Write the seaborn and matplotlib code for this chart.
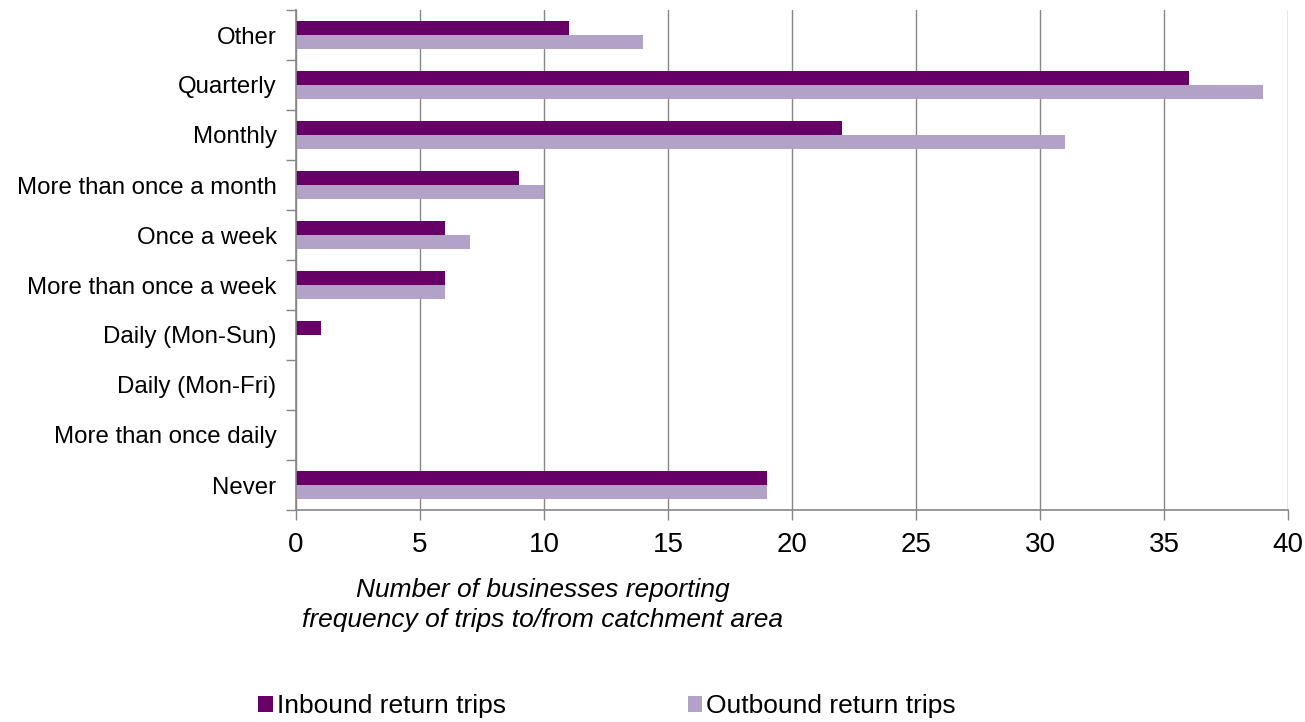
import matplotlib
matplotlib.use("Agg")
import matplotlib.pyplot as plt
from matplotlib.patches import Patch
import seaborn as sns
import pandas as pd

categories = [
    "Other",
    "Quarterly",
    "Monthly",
    "More than once a month",
    "Once a week",
    "More than once a week",
    "Daily (Mon-Sun)",
    "Daily (Mon-Fri)",
    "More than once daily",
    "Never",
]
inbound = [11, 36, 22, 9, 6, 6, 1, 0, 0, 19]
outbound = [14, 39, 31, 10, 7, 6, 0, 0, 0, 19]
series_names = ["Inbound return trips", "Outbound return trips"]
x_ticks = [0, 5, 10, 15, 20, 25, 30, 35, 40]
x_label = "Number of businesses reporting\nfrequency of trips to/from catchment area"

colors = {"Inbound return trips": "#660066", "Outbound return trips": "#B3A2C7"}
axis_grey = "#868686"

df = pd.DataFrame({
    "category": categories * 2,
    "value": inbound + outbound,
    "series": [series_names[0]] * len(categories) + [series_names[1]] * len(categories),
})

sns.set_theme(style="white")
plt.rcParams["font.family"] = ["Liberation Sans", "DejaVu Sans"]
plt.rcParams["text.color"] = "black"
plt.rcParams["xtick.labelcolor"] = "black"
plt.rcParams["ytick.labelcolor"] = "black"

fig = plt.figure(figsize=(13.05, 7.22), dpi=100)
ax = fig.add_axes([296 / 1305, 1 - 510 / 722, (1288 - 296) / 1305, 500 / 722])

sns.barplot(
    data=df, y="category", x="value", hue="series",
    order=categories, hue_order=series_names, palette=colors,
    orient="h", width=0.56, ax=ax, legend=False, saturation=1,
    linewidth=0,
)

n = len(categories)
ax.set_xlim(0, 40)
ax.set_ylim(n - 0.5, -0.5)
ax.set_xticks(x_ticks)
ax.set_xticklabels([str(t) for t in x_ticks], fontsize=20, color="black")
ax.xaxis.grid(True, color=axis_grey, linewidth=1)
ax.yaxis.grid(False)
ax.set_axisbelow(True)

# category boundaries get the tick marks, names sit between them
ax.set_yticks([i - 0.5 for i in range(n + 1)])
ax.set_yticklabels([])
ax.set_yticks(range(n), minor=True)
ax.set_yticklabels(categories, minor=True, fontsize=17.3, color="black")
ax.tick_params(axis="y", which="major", direction="out", length=7, width=1,
               color=axis_grey, left=True)
ax.tick_params(axis="y", which="minor", length=0, pad=14)
ax.tick_params(axis="x", direction="out", length=7, width=1, color=axis_grey,
               bottom=True, pad=9)

ax.set_xlabel("")
ax.set_ylabel("")
for side in ("top", "right"):
    ax.spines[side].set_visible(False)
for side in ("left", "bottom"):
    ax.spines[side].set_color(axis_grey)
    ax.spines[side].set_linewidth(1.2)

fig.text(543 / 1305, 1 - 605 / 722, x_label, ha="center", va="center",
         fontsize=19, style="italic", linespacing=1.3, color="black")

handles = [Patch(facecolor=colors[s], edgecolor="none") for s in series_names]
fig.legend(handles, series_names, loc="center", bbox_to_anchor=(607 / 1305, 1 - 706 / 722),
           ncol=2, frameon=False, fontsize=19, handlelength=0.55, handleheight=0.55,
           handletextpad=0.15, columnspacing=6.9, borderaxespad=0)

fig.savefig("out.png", dpi=100)
